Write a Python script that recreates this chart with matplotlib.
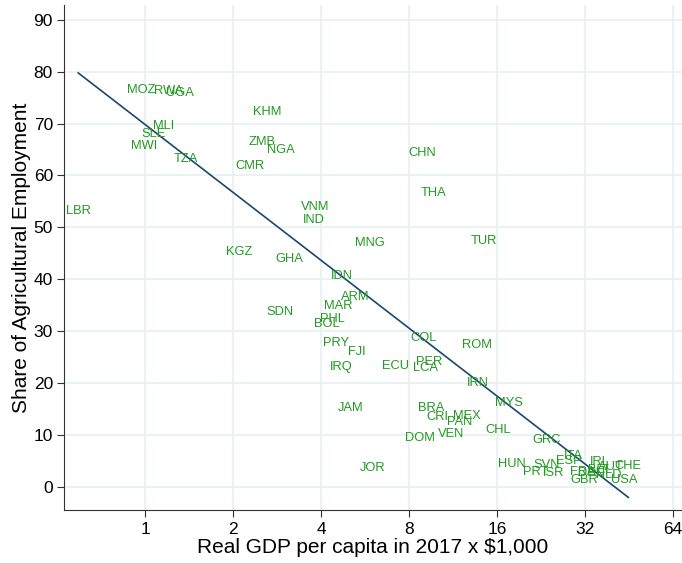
import numpy as np
import matplotlib
matplotlib.use("Agg")
import matplotlib.pyplot as plt

plt.rcParams['font.family'] = ['Liberation Sans', 'DejaVu Sans']

# country codes, GDP per capita (x $1,000) and agricultural employment share (%)
countries = ['LBR', 'MOZ', 'RWA', 'UGA', 'MLI', 'SLE', 'MWI', 'TZA', 'KHM', 'ZMB',
             'NGA', 'CMR', 'CHN', 'THA', 'VNM', 'IND', 'MNG', 'TUR', 'KGZ', 'GHA',
             'IDN', 'ARM', 'MAR', 'SDN', 'PHL', 'BOL', 'COL', 'ROM', 'PRY', 'FJI',
             'IRQ', 'ECU', 'PER', 'LCA', 'IRN', 'MYS', 'JAM', 'BRA', 'CRI', 'MEX',
             'PAN', 'CHL', 'DOM', 'VEN', 'JOR', 'GRC', 'ITA', 'ESP', 'HUN', 'SVN',
             'PRT', 'ISR', 'IRL', 'CHE', 'AUT', 'NLD', 'BEL', 'DEU', 'FRA', 'GBR',
             'USA']
gdp = [0.59, 0.97, 1.20, 1.32, 1.16, 1.07, 0.99, 1.38, 2.61, 2.51,
       2.92, 2.29, 8.87, 9.67, 3.82, 3.79, 5.88, 14.4, 2.10, 3.11,
       4.72, 5.23, 4.57, 2.90, 4.36, 4.19, 9.0, 13.7, 4.50, 5.31,
       4.68, 7.16, 9.37, 9.13, 13.8, 17.6, 5.06, 9.5, 9.97, 12.6,
       11.9, 16.1, 8.72, 11.1, 5.98, 23.6, 29.3, 28.1, 18.0, 23.6,
       21.7, 24.9, 36.0, 45.0, 39.3, 38.5, 36.0, 33.8, 31.5, 31.7,
       43.6]
agri = [53.1, 76.4, 76.3, 75.9, 69.5, 68.0, 65.6, 63.1, 72.2, 66.4,
        64.9, 61.8, 64.3, 56.6, 53.9, 51.5, 47.1, 47.3, 45.2, 44.0,
        40.7, 36.7, 34.9, 33.8, 32.4, 31.5, 28.8, 27.4, 27.8, 26.1,
        23.2, 23.4, 24.1, 23.0, 20.1, 16.2, 15.3, 15.2, 13.5, 13.7,
        12.5, 11.0, 9.5, 10.2, 3.7, 9.1, 6.0, 5.0, 4.4, 4.2,
        2.9, 2.7, 4.8, 4.0, 3.9, 2.3, 3.3, 2.7, 2.9, 1.4,
        1.4]

# fitted line: share = a + b * ln(gdp)
fit_intercept = 69.8
fit_slope = -18.85

x_ticks = [1, 2, 4, 8, 16, 32, 64]
y_ticks = [0, 10, 20, 30, 40, 50, 60, 70, 80, 90]

label_color = '#229922'
line_color = '#1a476f'
grid_color = '#e8f0f2'


def main():
    fig = plt.figure(figsize=(6.82, 5.63), dpi=100)
    ax = fig.add_axes([0.094, 0.094, 0.906, 0.897])

    gdp_arr = np.array(gdp)
    xs = np.array([gdp_arr.min(), gdp_arr.max()])
    ax.plot(xs, fit_intercept + fit_slope * np.log(xs), color=line_color, linewidth=1.2, zorder=2)

    for name, gx, gy in zip(countries, gdp, agri):
        ax.text(gx, gy, name, color=label_color, fontsize=9.3, ha='center', va='center', zorder=3)

    ax.set_xscale('log', base=2)
    ax.set_xlim(0.528, 68.7)
    ax.set_ylim(-4.4, 92.8)
    ax.set_xticks(x_ticks)
    ax.set_xticklabels([str(t) for t in x_ticks])
    ax.minorticks_off()
    ax.set_yticks(y_ticks)
    ax.tick_params(axis='both', labelsize=12.5, length=5, width=0.8, direction='out', color='#333333')
    ax.tick_params(axis='y', pad=3)

    ax.grid(True, color=grid_color, linewidth=1.2, zorder=0)
    ax.set_axisbelow(True)
    ax.spines['top'].set_visible(False)
    ax.spines['right'].set_visible(False)
    ax.spines['left'].set_color('#333333')
    ax.spines['bottom'].set_color('#333333')

    ax.set_xlabel('Real GDP per capita in 2017 x $1,000', fontsize=15, labelpad=1)
    ax.set_ylabel('Share of Agricultural Employment', fontsize=15, labelpad=2)

    fig.savefig('out.png', dpi=100)


if __name__ == "__main__":
    main()
